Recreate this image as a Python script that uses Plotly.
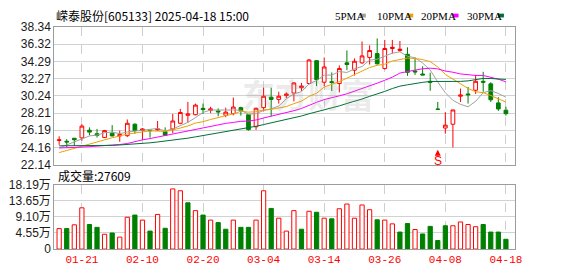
import plotly.graph_objects as go

W, H = 578, 276

dates = [
    "2025-01-16", "2025-01-17", "2025-01-20", "2025-01-21", "2025-01-22", "2025-01-23", "2025-01-24", "2025-01-27",
    "2025-02-05", "2025-02-06", "2025-02-07", "2025-02-10", "2025-02-11", "2025-02-12", "2025-02-13", "2025-02-14",
    "2025-02-17", "2025-02-18", "2025-02-19", "2025-02-20", "2025-02-21", "2025-02-24", "2025-02-25", "2025-02-26",
    "2025-02-27", "2025-02-28", "2025-03-03", "2025-03-04", "2025-03-05", "2025-03-06", "2025-03-07", "2025-03-10",
    "2025-03-11", "2025-03-12", "2025-03-13", "2025-03-14", "2025-03-17", "2025-03-18", "2025-03-19", "2025-03-20",
    "2025-03-21", "2025-03-24", "2025-03-25", "2025-03-26", "2025-03-27", "2025-03-28", "2025-03-31", "2025-04-01",
    "2025-04-02", "2025-04-03", "2025-04-07", "2025-04-08", "2025-04-09", "2025-04-10", "2025-04-11", "2025-04-14",
    "2025-04-15", "2025-04-16", "2025-04-17", "2025-04-18",
]

opens = [24.98, 24.88, 25.24, 25.28, 26.18, 25.77, 25.32, 25.84, 25.51, 25.54,
         26.89, 26.14, 26.18, 26.22, 26.03, 26.33, 27.00, 27.94, 28.01, 28.76,
         28.54, 28.46, 27.94, 28.13, 28.84, 28.01, 26.59, 28.84, 30.07, 29.81,
         30.26, 30.56, 31.19, 31.68, 34.37, 31.83, 31.90, 31.68, 34.11, 33.25,
         34.11, 34.75, 35.20, 33.44, 35.80, 35.57, 35.12, 33.15, 32.80, 31.94,
         28.66, 26.44, 26.89, 30.18, 30.45, 30.89, 31.94, 31.64, 29.40, 28.54]
highs = [25.47, 25.13, 25.24, 26.89, 26.52, 26.33, 26.22, 26.78, 26.14, 27.45,
         27.00, 26.44, 26.22, 27.27, 26.52, 28.09, 28.69, 29.51, 29.32, 29.32,
         28.95, 28.76, 28.84, 30.03, 28.95, 28.09, 28.84, 31.19, 31.19, 30.71,
         30.63, 31.83, 31.75, 34.56, 34.45, 34.75, 32.99, 33.81, 35.57, 34.64,
         36.62, 36.17, 36.99, 36.81, 36.81, 36.69, 35.94, 34.75, 33.70, 32.95,
         29.51, 28.31, 28.57, 31.08, 31.27, 32.69, 33.06, 31.83, 30.07, 28.95]
lows = [24.46, 24.16, 24.35, 24.95, 25.58, 25.32, 25.28, 25.47, 24.83, 25.39,
        25.77, 25.02, 25.32, 26.14, 25.51, 25.84, 26.89, 27.08, 27.94, 28.09,
        28.20, 27.83, 27.71, 27.94, 27.90, 26.14, 26.22, 28.39, 27.83, 29.32,
        29.96, 29.58, 30.82, 31.57, 31.38, 31.38, 30.80, 30.63, 33.25, 32.62,
        34.00, 33.92, 33.92, 33.33, 35.20, 35.42, 32.58, 32.69, 32.69, 30.82,
        28.65, 25.77, 24.16, 29.51, 29.32, 30.45, 30.71, 29.51, 28.46, 27.90]
closes = [25.05, 24.80, 25.06, 26.67, 25.96, 25.58, 26.14, 25.51, 25.66, 27.00,
          26.14, 26.33, 26.14, 26.33, 25.58, 27.27, 28.27, 28.09, 29.14, 28.61,
          28.69, 28.35, 28.31, 28.91, 28.46, 26.25, 28.76, 30.18, 29.81, 30.18,
          30.45, 31.75, 31.38, 34.45, 32.13, 33.63, 31.80, 33.44, 33.92, 34.30,
          34.93, 35.57, 34.00, 35.80, 35.94, 35.72, 33.00, 33.05, 32.69, 31.83,
          28.65, 26.78, 28.57, 30.33, 30.36, 31.94, 31.83, 29.77, 28.69, 28.13]

ma5 = [24.10, 24.45, 24.80, 25.20, 25.51, 25.61, 25.88, 25.97, 25.77, 25.98,
       26.09, 26.13, 26.25, 26.39, 26.10, 26.33, 26.72, 27.11, 27.67, 28.28,
       28.56, 28.58, 28.62, 28.57, 28.54, 28.06, 28.14, 28.51, 28.69, 29.04,
       29.88, 30.47, 30.71, 31.64, 32.03, 32.67, 32.68, 33.09, 32.98, 33.42,
       33.68, 34.43, 34.54, 34.92, 35.25, 35.41, 34.89, 34.71, 34.09, 33.27,
       31.85, 30.60, 29.70, 29.23, 28.94, 29.59, 30.60, 30.84, 30.51, 30.07]
ma10 = [23.55, 23.80, 24.05, 24.35, 24.60, 24.85, 25.10, 25.30, 25.50, 25.74,
        25.85, 26.01, 26.11, 26.08, 26.04, 26.21, 26.42, 26.68, 27.03, 27.19,
        27.45, 27.65, 27.86, 28.12, 28.41, 28.31, 28.36, 28.57, 28.63, 28.79,
        28.97, 29.31, 29.61, 30.17, 30.53, 31.27, 31.58, 31.90, 32.31, 32.73,
        33.17, 33.56, 33.82, 33.95, 34.33, 34.54, 34.67, 34.63, 34.50, 34.26,
        33.63, 32.75, 32.21, 31.66, 31.10, 30.72, 30.60, 30.27, 29.87, 29.50]
ma20 = [24.09, 24.10, 24.15, 24.20, 24.25, 24.30, 24.33, 24.40, 24.50, 24.62,
        24.85, 25.05, 25.20, 25.38, 25.55, 25.75, 25.95, 26.15, 26.32, 26.47,
        26.65, 26.83, 26.99, 27.10, 27.23, 27.26, 27.39, 27.62, 27.83, 27.99,
        28.21, 28.48, 28.74, 29.14, 29.47, 29.79, 29.97, 30.23, 30.47, 30.76,
        31.07, 31.43, 31.72, 32.06, 32.43, 32.91, 33.12, 33.26, 33.41, 33.49,
        33.40, 33.15, 33.01, 32.81, 32.72, 32.63, 32.63, 32.45, 32.19, 31.88]
ma30 = [24.35, 24.35, 24.33, 24.33, 24.32, 24.32, 24.35, 24.40, 24.45, 24.50,
        24.55, 24.62, 24.70, 24.80, 24.90, 25.00, 25.10, 25.25, 25.40, 25.55,
        25.70, 25.85, 26.00, 26.15, 26.35, 26.50, 26.65, 26.85, 27.05, 27.24,
        27.42, 27.65, 27.86, 28.12, 28.33, 28.60, 28.79, 29.05, 29.33, 29.57,
        29.86, 30.17, 30.43, 30.75, 31.09, 31.37, 31.53, 31.70, 31.82, 31.92,
        31.92, 31.87, 31.88, 31.93, 31.99, 32.18, 32.28, 32.27, 32.23, 32.16]

# volume in 万 (10k shares)
volumes = [5.77, 5.77, 6.83, 11.62, 6.92, 6.12, 4.17, 4.53, 3.37, 8.96,
           9.58, 8.16, 5.06, 9.76, 5.86, 16.95, 16.42, 13.04, 10.83, 9.58,
           8.16, 7.45, 5.59, 8.16, 6.12, 6.12, 8.16, 16.42, 11.45, 8.70,
           5.06, 10.83, 5.59, 10.65, 10.38, 8.70, 8.52, 11.36, 12.69, 8.70,
           12.42, 11.09, 8.25, 8.16, 7.10, 4.79, 7.19, 5.50, 4.26, 6.39,
           2.40, 6.57, 6.57, 7.63, 6.92, 6.30, 6.92, 4.79, 4.79, 2.76]
last_volume = 27609

price_ticks = [22.14, 24.16, 26.19, 28.21, 30.24, 32.27, 34.29, 36.32, 38.34]
vol_ticks = [0, 4.55, 9.10, 13.65, 18.19]
vol_tick_text = ["0", "4.55万", "9.10万", "13.65万", "18.19万"]
x_tick_dates = ["2025-01-21", "2025-02-10", "2025-02-20", "2025-03-04",
                "2025-03-14", "2025-03-26", "2025-04-08", "2025-04-18"]
x_tick_labels = ["01-21", "02-10", "02-20", "03-04", "03-14", "03-26", "04-08", "04-18"]
signal_dates = ["2025-04-07"]
signal_labels = ["S"]
title_text = "嵘泰股份[605133] 2025-04-18 15:00"
ma_names = ["5PMA", "10PMA", "20PMA", "30PMA"]
ma_series = [ma5, ma10, ma20, ma30]

# ---- styles ----
RED = "#ff0000"
GREEN = "#008000"
ma_colors = ["#a0a0a0", "#f0a000", "#ff00ff", "#006f36"]
GRID = "#d2d2d2"
BORDER = "#9c9c9c"
TXT = "#1a1a1a"


def px(x):
    return x / W


def py(y):
    return 1 - y / H


x_dom = [px(55), px(522)]
x_range = [-0.65, 60.17]

fig = go.Figure()

fig.add_trace(go.Candlestick(
    x=dates, open=opens, high=highs, low=lows, close=closes,
    increasing=dict(line=dict(color=RED, width=1), fillcolor="white"),
    decreasing=dict(line=dict(color=GREEN, width=1), fillcolor=GREEN),
    whiskerwidth=0, xaxis="x", yaxis="y", hoverinfo="skip",
))

for name, s, c in zip(ma_names, ma_series, ma_colors):
    fig.add_trace(go.Scatter(x=dates, y=s, mode="lines", name=name,
                             line=dict(color=c, width=1), xaxis="x", yaxis="y",
                             hoverinfo="skip"))

up = [True] + [closes[i] >= closes[i - 1] for i in range(1, len(closes))]
fig.add_trace(go.Bar(
    x=dates, y=volumes, width=0.56,
    marker=dict(color=["white" if u else GREEN for u in up],
                line=dict(color=[RED if u else GREEN for u in up], width=1)),
    xaxis="x2", yaxis="y2", hoverinfo="skip",
))

axis_common = dict(showline=True, linecolor=BORDER, linewidth=1, mirror=True,
                   zeroline=False, ticks="", fixedrange=True)

fig.update_layout(
    width=W, height=H, margin=dict(l=0, r=0, t=0, b=0),
    paper_bgcolor="white", plot_bgcolor="white", showlegend=False,
    xaxis=dict(domain=x_dom, anchor="y", type="category", range=x_range,
               tickvals=x_tick_dates, showticklabels=False, showgrid=True,
               gridcolor="#cfcfcf", griddash="dash", gridwidth=1,
               rangeslider=dict(visible=False), **axis_common),
    yaxis=dict(domain=[py(166), py(21)], anchor="x", range=[22.14, 38.34],
               tickvals=price_ticks, ticktext=[f"{v:.2f}" for v in price_ticks],
               showgrid=True, gridcolor=GRID, gridwidth=1,
               tickfont=dict(family="Liberation Sans", size=12, color=TXT),
               **axis_common),
    xaxis2=dict(domain=x_dom, anchor="y2", type="category", range=x_range,
                tickvals=x_tick_dates, ticktext=x_tick_labels, showgrid=True,
                gridcolor="#cfcfcf", griddash="dash", gridwidth=1,
                tickfont=dict(family="Liberation Mono", size=11, color=RED),
                **axis_common),
    yaxis2=dict(domain=[py(255), py(187)], anchor="x2", range=[0, 18.19],
                tickvals=vol_ticks, ticktext=vol_tick_text,
                showgrid=True, gridcolor=GRID, gridwidth=1,
                tickfont=dict(family="Liberation Sans, Noto Sans CJK SC", size=12, color=TXT),
                **axis_common),
)

annotations = []
# title
annotations.append(dict(text=title_text, x=px(55), y=py(8.5), xref="paper", yref="paper",
                        xanchor="left", yanchor="middle", showarrow=False,
                        font=dict(family="Noto Sans CJK SC", size=12, color="#000")))
# legend
legend_text_x = [338, 380, 425, 472]
legend_box_x = [365, 413, 459, 505]
shapes = []
for name, c, tx, bx in zip(ma_names, ma_colors, legend_text_x, legend_box_x):
    annotations.append(dict(text=name, x=px(tx), y=py(9.5), xref="paper", yref="paper",
                            xanchor="left", yanchor="middle", showarrow=False,
                            font=dict(family="Liberation Serif", size=11, color="#000")))
    shapes.append(dict(type="rect", xref="paper", yref="paper",
                       x0=px(bx), x1=px(bx + 6), y0=py(11), y1=py(7),
                       fillcolor=c, line=dict(width=0)))
# volume label
annotations.append(dict(text=f"成交量:{last_volume}", x=px(57), y=py(177.5), xref="paper", yref="paper",
                        xanchor="left", yanchor="middle", showarrow=False,
                        font=dict(family="Noto Sans CJK SC", size=12, color="#000")))
# watermark
annotations.append(dict(text="<b>东方财富</b>", x=px(312), y=py(92), xref="paper", yref="paper",
                        xanchor="center", yanchor="middle", showarrow=False,
                        font=dict(family="Noto Sans CJK SC", size=33, color="rgba(150,150,150,0.2)")))
# signal markers: small arrow pointing up to the "S" label
for d, lab in zip(signal_dates, signal_labels):
    annotations.append(dict(text=lab, x=d, xref="x", y=py(150.5), yref="paper",
                            ax=0, ay=11, showarrow=True, arrowhead=2, arrowsize=1,
                            arrowwidth=1.2, arrowcolor=RED, standoff=0, borderpad=0,
                            font=dict(family="Liberation Sans", size=12, color=RED)))

fig.update_layout(annotations=annotations, shapes=shapes)

fig.write_html("out.html")
